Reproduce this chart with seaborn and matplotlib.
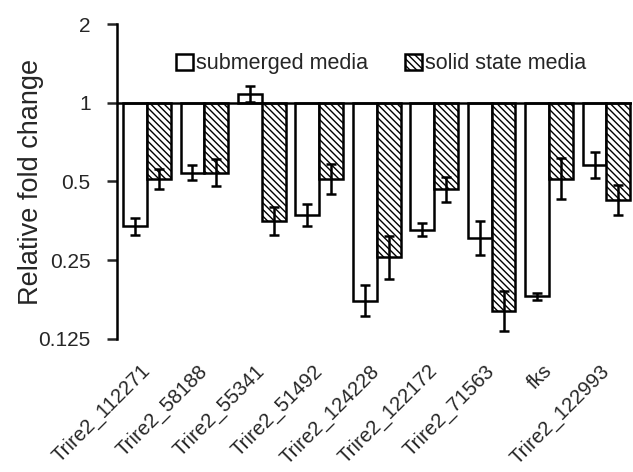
import numpy as np
import pandas as pd
import matplotlib
matplotlib.use("Agg")
import matplotlib.pyplot as plt
import seaborn as sns

genes = ["Trire2_112271", "Trire2_58188", "Trire2_55341", "Trire2_51492",
         "Trire2_124228", "Trire2_122172", "Trire2_71563", "fks", "Trire2_122993"]
series = ["submerged media", "solid state media"]
submerged = [0.337, 0.541, 1.08, 0.373, 0.175, 0.327, 0.304, 0.182, 0.579]
solid = [0.513, 0.541, 0.354, 0.513, 0.256, 0.466, 0.160, 0.513, 0.425]
# error half-widths in doublings (log2 units)
submerged_err = [0.11, 0.09, 0.105, 0.14, 0.2, 0.085, 0.21, 0.045, 0.165]
solid_err = [0.127, 0.17, 0.18, 0.19, 0.27, 0.16, 0.255, 0.255, 0.19]
tick_values = [0.125, 0.25, 0.5, 1, 2]
tick_labels = ["0.125", "0.25", "0.5", "1", "2"]

sns.set_style("white")
plt.rcParams["font.family"] = ["Liberation Sans", "DejaVu Sans"]
plt.rcParams["hatch.linewidth"] = 1.0

df = pd.DataFrame({
    "gene": genes * 2,
    "media": [series[0]] * len(genes) + [series[1]] * len(genes),
    "log2": np.log2(submerged + solid),
})

fig = plt.figure(figsize=(6.33, 4.72), dpi=100)
ax = fig.add_axes([0.185, 0.282, 0.813, 0.667])

sns.barplot(data=df, x="gene", y="log2", hue="media", hue_order=series,
            order=genes, palette=["white", "white"], edgecolor="black",
            linewidth=1.8, width=0.83, gap=0, errorbar=None, legend=False,
            ax=ax, saturation=1)

bar_conts = list(ax.containers)
errs = [submerged_err, solid_err]
for i, cont in enumerate(bar_conts):
    xs = [p.get_x() + p.get_width() / 2 for p in cont.patches]
    ys = [p.get_y() + p.get_height() for p in cont.patches]
    if i == 1:
        for p in cont.patches:
            p.set_hatch("\\\\\\\\\\")
    ax.errorbar(xs, ys, yerr=errs[i], fmt="none", ecolor="black",
                elinewidth=1.8, capsize=3.5, capthick=1.8, zorder=5)

ax.axhline(0, color="black", lw=1.8, zorder=6)
ax.set_ylim(-3, 1)
ax.set_xlim(-0.52, 8.44)
ax.set_yticks(np.log2(tick_values))
ax.set_yticklabels(tick_labels, fontsize=15)
ax.set_xticks(range(len(genes)))
ax.set_xticklabels(genes, rotation=45, ha="right", va="center",
                   rotation_mode="anchor", fontsize=14.6)
ax.tick_params(axis="y", direction="out", length=7, width=1.8, left=True, pad=12)
ax.tick_params(axis="x", length=0, pad=21)
ax.set_xlabel("")
ax.set_ylabel("Relative fold change", fontsize=19.5)
ax.yaxis.set_label_coords(-0.142, 0.5)
for s in ["top", "right", "bottom"]:
    ax.spines[s].set_visible(False)
ax.spines["left"].set_linewidth(1.8)
ax.spines["left"].set_color("black")

handles = [bar_conts[0].patches[0], bar_conts[1].patches[0]]
leg = ax.legend(handles, series, loc="center", bbox_to_anchor=(0.513, 0.874),
                ncol=2, frameon=False, fontsize=15.5, handlelength=0.8,
                handleheight=0.8, handletextpad=0.15, columnspacing=1.7)

fig.savefig("out.png", dpi=100)
